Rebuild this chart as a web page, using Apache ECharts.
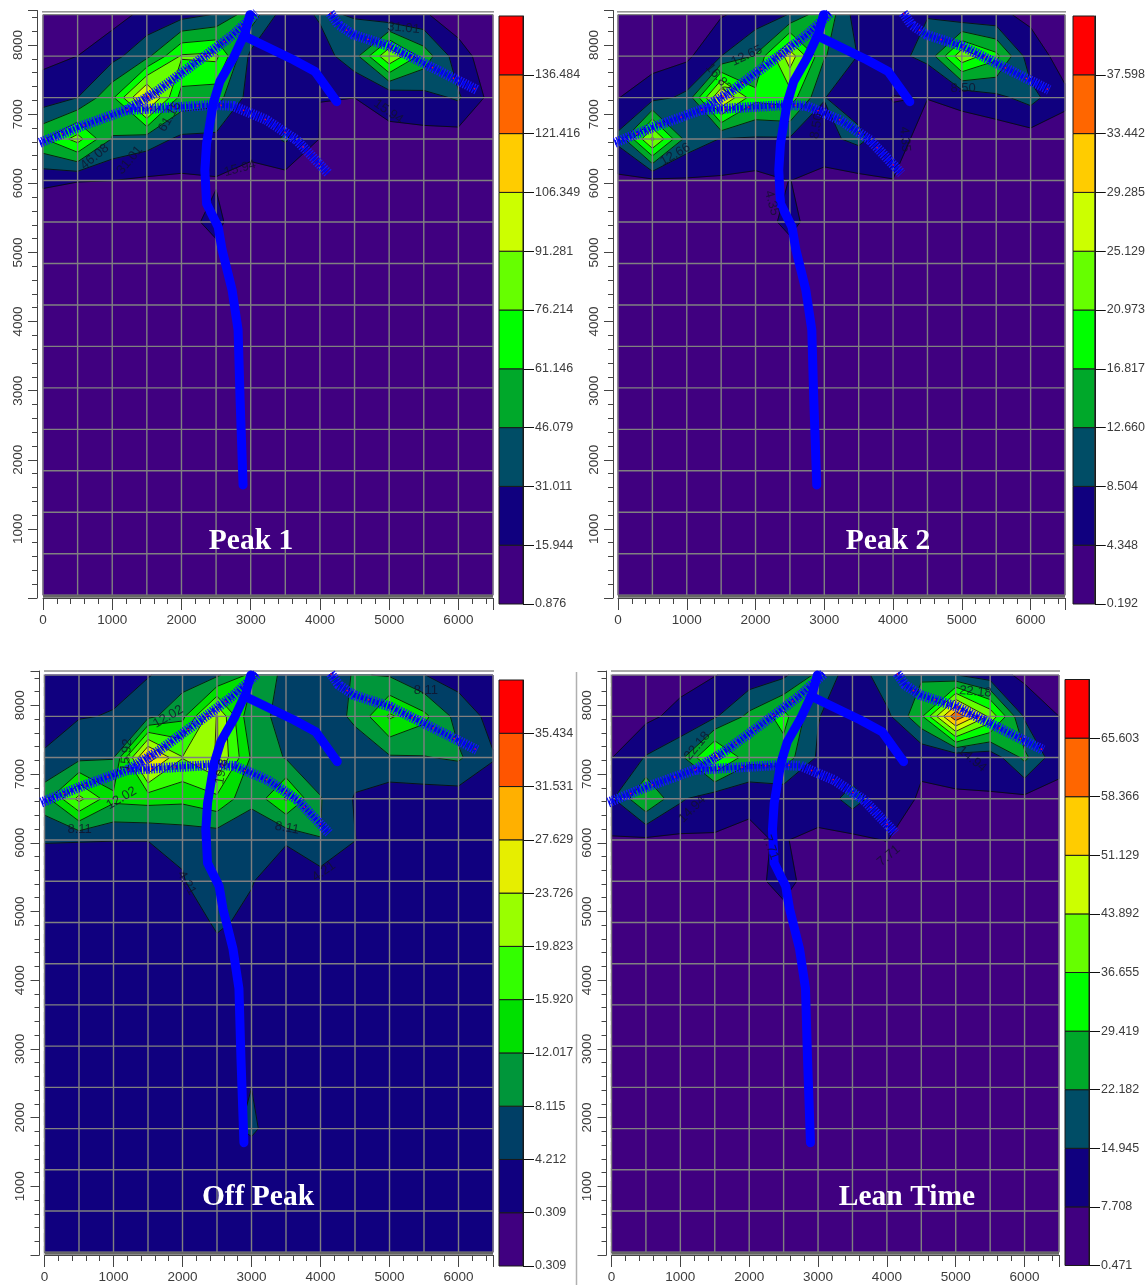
<!DOCTYPE html>
<html><head><meta charset="utf-8">
<style>html,body{margin:0;padding:0;background:#fff}#c{width:1148px;height:1285px}</style>
<script src="https://cdn.jsdelivr.net/npm/echarts@6/dist/echarts.min.js"></script>
</head><body><div id="c"></div>
<script>
// node positions of the contour mesh
const xNodes = [0,500,1000,1500,2000,2500,3000,3500,4000,4500,5000,5500,6000,6500];
const yRows = [8440,7840,7240,6640,6040,5440,4840,4240,3640,3040,2440,1840,1240,640,40];

// colour-scale break values (bottom to top)
const peak1Levels = [0.876,15.944,31.011,46.079,61.146,76.214,91.281,106.349,121.416,136.484];
const peak2Levels = [0.192,4.348,8.504,12.660,16.817,20.973,25.129,29.285,33.442,37.598];
const offPeakLevels = [0.309,0.309,4.212,8.115,12.017,15.920,19.823,23.726,27.629,31.531,35.434];
const leanLevels = [0.471,7.708,14.945,22.182,29.419,36.655,43.892,51.129,58.366,65.603];

const tenColours = ['#400080','#10007f','#004d66','#00a82a','#00ff00','#66ff00','#ccff00','#ffcc00','#ff6600','#ff0000'];
const elevenColours = ['#400080','#10007f','#003f66','#00963a','#00e000','#33ff00','#99ff00','#e6ee00','#ffb000','#ff5500','#ff0000'];

// node values, row by row from the top of the mesh
const peak1Values = [
 [4,5,10,20,25,32,55,22,33,30,17,17.5,8,4],
 [13,16,26,42,78,80,27,21,24,40,90,55,22,7],
 [22,31,58,115,55,52,25,22,16,16,18,26,33,10],
 [60,82,45,38,28,27,20,33,15.5,8,14.4,11,9,5],
 [19.5,16.5,16,13.7,13.4,14.8,12.5,10.2,15.5,2,2,2,2,2],
 [1,1,1,1,11,20,2,1,1,1,1,1,1,1],
 [1,1,1,1,1,10,1,1,1,1,1,1,1,1]
];
const peak2Values = [
 [2,2,3,4,6,8.7,16,6,8.3,8.4,4.9,5,3.6,1],
 [1.5,2.4,3.5,8.5,13,27.6,13,8.3,7.5,9.5,24,18,6,3],
 [4.2,7,9.5,30,18,19,8.6,6.5,4.2,4.4,5,7.5,10,5],
 [9.5,26,11,8.3,8,8,7.5,9.5,5.5,3.2,3,1.5,2.3,3],
 [3.4,3.5,3.9,3.8,3.2,4.4,2.8,3.3,4.3,1,0.5,0.5,0.5,0.5],
 [0.5,0.5,0.5,0.5,1.5,6,0.5,0.5,0.5,0.5,0.5,0.5,0.5,0.5],
 [0.3,0.3,0.3,0.3,0.3,1,0.3,0.3,0.3,0.3,0.3,0.3,0.3,0.3]
];
const offPeakValues = [
 [2,2.5,3.3,4,6,7.5,13,6.5,6,8.4,7.8,4.3,2.5,2],
 [3.2,4,4.4,7,11,24,8.5,7.8,6,8.8,16.5,13,6.6,2.9],
 [4.5,7,7.9,30,20,24,11.5,7.8,6,6,7.6,7.9,8.7,4.5],
 [10.5,21,13,13.5,13,15,9,16.5,8.3,3.9,1.9,2.2,2.2,1.5],
 [4.5,4.4,4.3,4.3,5.3,5.4,5.4,4.7,8.1,4.3,1.5,1.5,1.5,1.5],
 [1,1,1,1,3.8,8.6,4.5,1,2.1,1,1,1,1,1],
 [1,1,1,1,1,5,3,1,1,1,1,1,1,1],
 [1,1,1,1,1,2,1,1,1,1,1,1,1,1],
 [1,1,1,1,1,1,1,1,1,1,1,1,1,1],
 [1,1,1,1,1,1,1,1,1,1,1,1,1,1],
 [1,1,1,1,1,1,4.2,1,1,1,1,1,1,1],
 [1,1,1,1,1,2.5,5,1,1,1,1,1,1,1]
];
const leanValues = [
 [2,3,5,7.5,10,13.5,24,8.6,20.7,21,15.2,11,6,2],
 [3,6,10,14,24,32,15.3,10,13,28,64,42,14,7.7],
 [7.5,15.5,20,40,25,26,14,9,9,8.4,9,10,24,9],
 [14,29.6,16,10,8,9,10,18,10,7.2,7.3,7.2,5.9,6.5],
 [7,6.3,6.2,7.2,7.4,7.9,6.7,5.9,8,1,0.8,0.8,0.8,0.8],
 [0.7,0.7,0.7,0.7,4.4,11,2.3,0.7,0.7,0.7,0.7,0.7,0.7,0.7],
 [0.6,0.6,0.6,0.6,0.6,3.8,0.6,0.6,0.6,0.6,0.6,0.6,0.6,0.6]
];
const peak1Base = 1, peak2Base = 0.3, offPeakBase = 1, leanBase = 0.6;

// road network (model coordinates)
const mainRoadWest = [[-48,6586],[530,6819],[1205,7060],[1640,7327],[2266,7787],[2748,8150],[3086,8464]];
const crossRoad = [[1205,7060],[1640,7085],[2460,7133],[2748,7119],[3230,6915],[3664,6625],[4122,6141]];
const northEastRoad = [[4147,8464],[4267,8295],[4484,8150],[5014,7980],[5641,7666],[6268,7351]];
const longRoad = [[2989,8440],[2917,8174],[2748,7811],[2555,7472],[2459,7157],[2363,6577],[2338,6190],[2363,5705],[2531,5367],[2587,5036],[2731,4457],[2818,3878],[2847,2865],[2890,1635]];
const branchRoad = [[2917,8125],[3616,7787],[3930,7617],[4243,7181]];

// contour labels: x, y, text, rotation
const peak1Labels = [[5207,8246,'31.01',-5],[4990,7036,'15.94',-35],[747,6383,'46.08',40],[1254,6335,'31.01',50],[2845,6214,'15.94',15],[1832,6964,'61.15',60]];
const peak2Labels = [[1873,7845,'12.65',25],[1462,7530,'16.82',-50],[5019,7375,'8.50',0],[832,6417,'12.66',30],[2890,6828,'8.50',80],[4172,6635,'4.35',-85],[2236,5715,'4.35',-75]];
const offPeakLabels = [[1793,7835,'12.02',30],[1188,7278,'15.92',85],[1115,6649,'12.02',30],[509,6199,'8.11',0],[3514,6214,'8.11',-10],[5526,8213,'8.11',0],[4048,5584,'4.21',35],[2060,5415,'4.21',-60],[2569,7036,'19.8',80]];
const leanLabels = [[5286,8198,'22.18',-5],[1244,7409,'22.18',50],[5237,7215,'14.94',-40],[1171,6489,'14.94',45],[4027,5812,'7.71',40],[2309,5933,'7.71',-70]];

const titles = ['Peak 1','Peak 2','Off Peak','Lean Time'];

// layout
const panels = [
 {name:titles[0],vals:peak1Values,base:peak1Base,levels:peak1Levels,cols:tenColours,labels:peak1Labels,left:43,width:450,bottom:598,height:587.5,off:6,
  bar:{left:499,top:16,width:24,height:588},titleAt:[246,521],topLine:[-90,7790,8480]},
 {name:titles[1],vals:peak2Values,base:peak2Base,levels:peak2Levels,cols:tenColours,labels:peak2Labels,left:618,width:447,bottom:598,height:587.5,off:5,
  bar:{left:1073,top:16,width:24,height:588},titleAt:[883,521],topLine:[-80,6550,8480]},
 {name:titles[2],vals:offPeakValues,base:offPeakBase,levels:offPeakLevels,cols:elevenColours,labels:offPeakLabels,left:44.5,width:448.5,bottom:1255,height:584,off:5,
  bar:{left:499,top:680,width:24,height:586},titleAt:[253,1177],topLine:[-130,7650,8500]},
 {name:titles[3],vals:leanValues,base:leanBase,levels:leanLevels,cols:tenColours,labels:leanLabels,left:611.5,width:447.5,bottom:1255,height:584,off:5,
  bar:{left:1065,top:679.5,width:24,height:586},titleAt:[902,1177],topLine:[-130,6550,8500]}
];

function nodeValue(p,r,c){ const row=p.vals[r]; return row?row[c]:p.base; }
function clipCell(poly,L){
  const out=[];
  for(let i=0;i<poly.length;i++){
    const a=poly[i],b=poly[(i+1)%poly.length];
    const ai=a.v>=L,bi=b.v>=L;
    if(ai) out.push(a);
    if(ai!==bi){
      const t=(L-a.v)/(b.v-a.v);
      out.push({x:a.x+t*(b.x-a.x),y:a.y+t*(b.y-a.y),v:L,on:true});
    }
  }
  return out;
}
function buildContours(p){
  const fills=[],lines=[];
  p.levels.forEach((L,k)=>{
    for(let r=0;r<yRows.length-1;r++)for(let c=0;c<xNodes.length-1;c++){
      const q=[
        {x:xNodes[c],y:yRows[r],v:nodeValue(p,r,c)},
        {x:xNodes[c+1],y:yRows[r],v:nodeValue(p,r,c+1)},
        {x:xNodes[c+1],y:yRows[r+1],v:nodeValue(p,r+1,c+1)},
        {x:xNodes[c],y:yRows[r+1],v:nodeValue(p,r+1,c)}];
      const o=k===0?q:clipCell(q,L);
      if(o.length<3)continue;
      fills.push({k,pts:o.map(v=>[v.x,v.y])});
      for(let i=0;i<o.length;i++){
        const a=o[i],b=o[(i+1)%o.length];
        if(a.on&&b.on)lines.push([[a.x,a.y],[b.x,b.y]]);
      }
    }
  });
  return {fills,lines};
}

const grid=[],xAxis=[],yAxis=[],series=[],title=[];
const axisCol='#444';
const font='"Liberation Sans",Arial,sans-serif';
panels.forEach((p,i)=>{
  const g=i*2, b=i*2+1;
  grid.push({left:p.left,width:p.width,top:p.bottom-p.height,height:p.height});
  grid.push({left:p.bar.left,width:p.bar.width,top:p.bar.top,height:p.bar.height});
  xAxis.push({gridIndex:g,type:'value',min:0,max:6500,interval:1000,splitLine:{show:false},
    axisLine:{onZero:false,lineStyle:{color:axisCol}},axisTick:{length:12,lineStyle:{color:axisCol}},
    minorTick:{show:true,splitNumber:5,length:6,lineStyle:{color:axisCol}},
    axisLabel:{color:'#3c3c3c',fontFamily:font,fontSize:13.5,margin:15,showMaxLabel:false,formatter:v=>String(v)}});
  yAxis.push({gridIndex:g,type:'value',min:0,max:8500,interval:1000,offset:p.off,splitLine:{show:false},
    axisLine:{onZero:false,lineStyle:{color:axisCol}},axisTick:{length:9,lineStyle:{color:axisCol}},
    minorTick:{show:true,splitNumber:5,length:5,lineStyle:{color:axisCol}},
    axisLabel:{color:'#3c3c3c',fontFamily:font,fontSize:13.5,rotate:90,margin:12,showMaxLabel:false,showMinLabel:false,formatter:v=>String(v)}});
  xAxis.push({gridIndex:b,type:'value',min:0,max:1,show:false});
  const n=p.levels.length, barTicks=p.levels.map((_,k)=>k);
  yAxis.push({gridIndex:b,type:'value',min:0,max:n,interval:1,position:'right',splitLine:{show:false},
    axisLine:{show:true,onZero:false,lineStyle:{color:'#1a1a1a'}},
    axisTick:{show:true,length:11,customValues:barTicks,lineStyle:{color:'#111'}},
    axisLabel:{customValues:barTicks,formatter:v=>p.levels[v].toFixed(3),color:'#3c3c3c',fontFamily:font,fontSize:12.5,margin:12,padding:[4,0,0,0]}});

  const ct=buildContours(p);
  series.push({type:'custom',xAxisIndex:g,yAxisIndex:g,coordinateSystem:'cartesian2d',silent:true,clip:false,z:2,data:[[0,0]],
    renderItem:(params,api)=>({type:'group',children:ct.fills.map(f=>({type:'polygon',
      shape:{points:f.pts.map(q=>api.coord(q))},
      style:{fill:p.cols[f.k],stroke:p.cols[f.k],lineWidth:0.8}}))})});
  series.push({type:'custom',xAxisIndex:g,yAxisIndex:g,coordinateSystem:'cartesian2d',silent:true,clip:false,z:3,data:[[0,0]],
    renderItem:(params,api)=>({type:'group',children:ct.lines.map(s=>({type:'line',
      shape:{x1:api.coord(s[0])[0],y1:api.coord(s[0])[1],x2:api.coord(s[1])[0],y2:api.coord(s[1])[1]},
      style:{stroke:'#0b0b0b',lineWidth:1,opacity:0.85}}))})});
  // mesh lines
  series.push({type:'custom',xAxisIndex:g,yAxisIndex:g,coordinateSystem:'cartesian2d',silent:true,clip:false,z:4,data:[[0,0]],
    renderItem:(params,api)=>{
      const kids=[];
      const st={stroke:'#808080',lineWidth:1.4};
      xNodes.forEach(x=>{const a=api.coord([x,yRows[0]]),c=api.coord([x,yRows[yRows.length-1]]);
        kids.push({type:'line',shape:{x1:a[0],y1:a[1],x2:c[0],y2:c[1]},style:st});});
      yRows.forEach(y=>{const a=api.coord([xNodes[0],y]),c=api.coord([xNodes[xNodes.length-1],y]);
        kids.push({type:'line',shape:{x1:a[0],y1:a[1],x2:c[0],y2:c[1]},style:st});});
      return {type:'group',children:kids};
    }});
  // frame decoration
  const frame=(data,style)=>series.push({type:'line',xAxisIndex:g,yAxisIndex:g,data,symbol:'none',silent:true,clip:false,z:4,lineStyle:style,animation:false});
  frame([[6545,0],[6545,8500]],{color:'#9a9a9a',width:1.5,type:[9,4]});
  frame([[-28,0],[-28,8500]],{color:'#b5b5b5',width:1.5,type:[9,4]});
  frame([[0,25],[6500,25]],{color:'#666',width:3});
  frame([[p.topLine[0],p.topLine[2]],[p.topLine[1],p.topLine[2]]],{color:'#555',width:1});
  // roads
  const road=(data,style)=>series.push({type:'line',xAxisIndex:g,yAxisIndex:g,data,symbol:'none',silent:true,clip:false,z:5,lineStyle:style,animation:false});
  [mainRoadWest,crossRoad,northEastRoad].forEach(rd=>{
    road(rd,{color:'#1414ff',width:10,type:[1.3,1.3],cap:'butt',join:'round'});
    road(rd,{color:'#0000ee',width:5,type:[2,2]});
    road(rd,{color:'#e01030',width:1.5,type:[1.5,22]});
  });
  road(longRoad,{color:'#0000ff',width:9,cap:'round',join:'round'});
  road(branchRoad,{color:'#0000ff',width:9,cap:'round',join:'round'});
  // contour labels
  series.push({type:'scatter',xAxisIndex:g,yAxisIndex:g,symbolSize:0,silent:true,z:6,animation:false,
    data:p.labels.map(l=>({value:[l[0],l[1]],name:l[2],
      label:{show:true,position:'inside',formatter:l[2],rotate:l[3],color:'#12122a',opacity:0.8,fontFamily:font,fontSize:13}}))});
  // colour scale
  series.push({type:'custom',xAxisIndex:b,yAxisIndex:b,coordinateSystem:'cartesian2d',silent:true,z:2,
    data:p.levels.map((_,k)=>[k,k+1]),
    renderItem:(params,api)=>{
      const lo=api.value(0),hi=api.value(1);
      const a=api.coord([0,hi]),c=api.coord([1,lo]);
      return {type:'rect',shape:{x:a[0],y:a[1],width:c[0]-a[0],height:c[1]-a[1]},
        style:{fill:p.cols[lo],stroke:'#1a1a1a',lineWidth:1}};
    }});
  title.push({text:p.name,left:p.titleAt[0],top:p.titleAt[1],textAlign:'center',
    textStyle:{color:'#fff',fontFamily:'"Liberation Serif",serif',fontWeight:'bold',fontSize:29.5}});
});

const chart=echarts.init(document.getElementById('c'),null,{renderer:'canvas'});
chart.setOption({animation:false,backgroundColor:'#fff',title,grid,xAxis,yAxis,series,
  graphic:[{type:'line',silent:true,shape:{x1:576.5,y1:672,x2:576.5,y2:1285},style:{stroke:'#b0b0b0',lineWidth:1.5}}]});
</script></body></html>
